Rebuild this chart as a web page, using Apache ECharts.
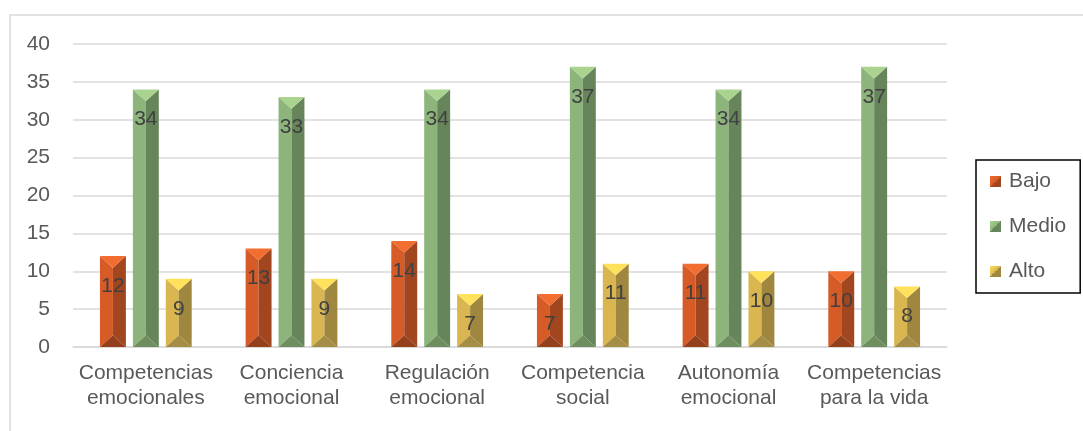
<!DOCTYPE html>
<html>
<head>
<meta charset="utf-8">
<script src="https://cdn.jsdelivr.net/npm/echarts@6/dist/echarts.min.js"></script>
<style>html,body{margin:0;padding:0;background:#fff;}#c{width:1083px;height:431px;}</style>
</head>
<body>
<div id="c"></div>
<script>
const categories = ['Competencias\nemocionales', 'Conciencia\nemocional', 'Regulación\nemocional', 'Competencia\nsocial', 'Autonomía\nemocional', 'Competencias\npara la vida'];
const seriesNames = ['Bajo', 'Medio', 'Alto'];
const bajo = [12, 13, 14, 7, 11, 10];
const medio = [34, 33, 34, 37, 34, 37];
const alto = [9, 9, 7, 11, 10, 8];
const yTicks = {min: 0, max: 40, interval: 5};

const palettes = [
  {top: '#F26D30', left: '#D75B27', right: '#A2461F', bottom: '#94401D'},
  {top: '#AAD38F', left: '#8DB47B', right: '#66855A', bottom: '#6E8E5F'},
  {top: '#FFE15B', left: '#D9B64F', right: '#A08740', bottom: '#A68D45'}
];
const FONT = 'Liberation Sans';

function makeRender(idx) {
  const pal = palettes[idx];
  return function (params, api) {
    const xi = api.value(0), v = api.value(1);
    const band = api.size([1, 0])[0];
    const bw = band * 0.178;
    const gap = band * 0.048;
    const center = api.coord([xi, 0]);
    const topPt = api.coord([xi, v]);
    const xc = center[0] + (idx - 1) * (bw + gap);
    const x0 = xc - bw / 2, x1 = xc + bw / 2;
    const yb = center[1], yt = topPt[1];
    const d = Math.min(bw * 0.45, (yb - yt) / 2);
    return {
      type: 'group',
      children: [
        {type: 'polygon', shape: {points: [[x0, yt], [xc, yt + d], [xc, yb - d], [x0, yb]]}, style: {fill: pal.left}},
        {type: 'polygon', shape: {points: [[x1, yt], [xc, yt + d], [xc, yb - d], [x1, yb]]}, style: {fill: pal.right}},
        {type: 'polygon', shape: {points: [[x0, yt], [x1, yt], [xc, yt + d]]}, style: {fill: pal.top}},
        {type: 'polygon', shape: {points: [[x0, yb], [x1, yb], [xc, yb - d]]}, style: {fill: pal.bottom}},
        {type: 'text', style: {x: xc, y: yt + 30, text: String(v), fill: '#404040', font: '21px "' + FONT + '"', align: 'center', verticalAlign: 'middle'}, z2: 10}
      ]
    };
  };
}

const allData = [bajo, medio, alto];
const series = allData.map((arr, i) => ({
  type: 'custom',
  name: seriesNames[i],
  renderItem: makeRender(i),
  encode: {x: 0, y: 1},
  data: arr.map((v, j) => [j, v]),
  itemStyle: {
    color: {type: 'linear', x: 0, y: 0, x2: 1, y2: 1,
      colorStops: [{offset: 0, color: palettes[i].top}, {offset: 0.5, color: palettes[i].left}, {offset: 0.5, color: palettes[i].right}, {offset: 1, color: palettes[i].right}]}
  }
}));

const chart = echarts.init(document.getElementById('c'));
chart.setOption({
  backgroundColor: '#fff',
  animation: false,
  graphic: [{type: 'rect', shape: {x: 10, y: 15, width: 1200, height: 600}, style: {fill: 'none', stroke: '#d9d9d9', lineWidth: 1.5}, silent: true, z: -1}],
  grid: {left: 73, right: 136, top: 44, bottom: 84, containLabel: false},
  legend: {
    orient: 'vertical', left: 976, top: 160,
    data: seriesNames,
    icon: 'rect', itemWidth: 11, itemHeight: 11, itemGap: 24,
    padding: [11, 14, 11, 14],
    borderColor: '#000', borderWidth: 1.5,
    textStyle: {fontFamily: FONT, fontSize: 21, color: '#595959', lineHeight: 21, padding: [0, 0, 0, 3]}
  },
  xAxis: {
    type: 'category', data: categories,
    axisLine: {lineStyle: {color: '#d9d9d9', width: 1.5}},
    axisTick: {show: false},
    axisLabel: {interval: 0, color: '#595959', fontFamily: FONT, fontSize: 21, lineHeight: 25, margin: 14}
  },
  yAxis: {
    type: 'value', min: yTicks.min, max: yTicks.max, interval: yTicks.interval,
    axisLine: {show: false}, axisTick: {show: false},
    splitLine: {lineStyle: {color: '#d9d9d9', width: 1.5}},
    axisLabel: {color: '#595959', fontFamily: FONT, fontSize: 21, margin: 23}
  },
  series: series
});
</script>
</body>
</html>
